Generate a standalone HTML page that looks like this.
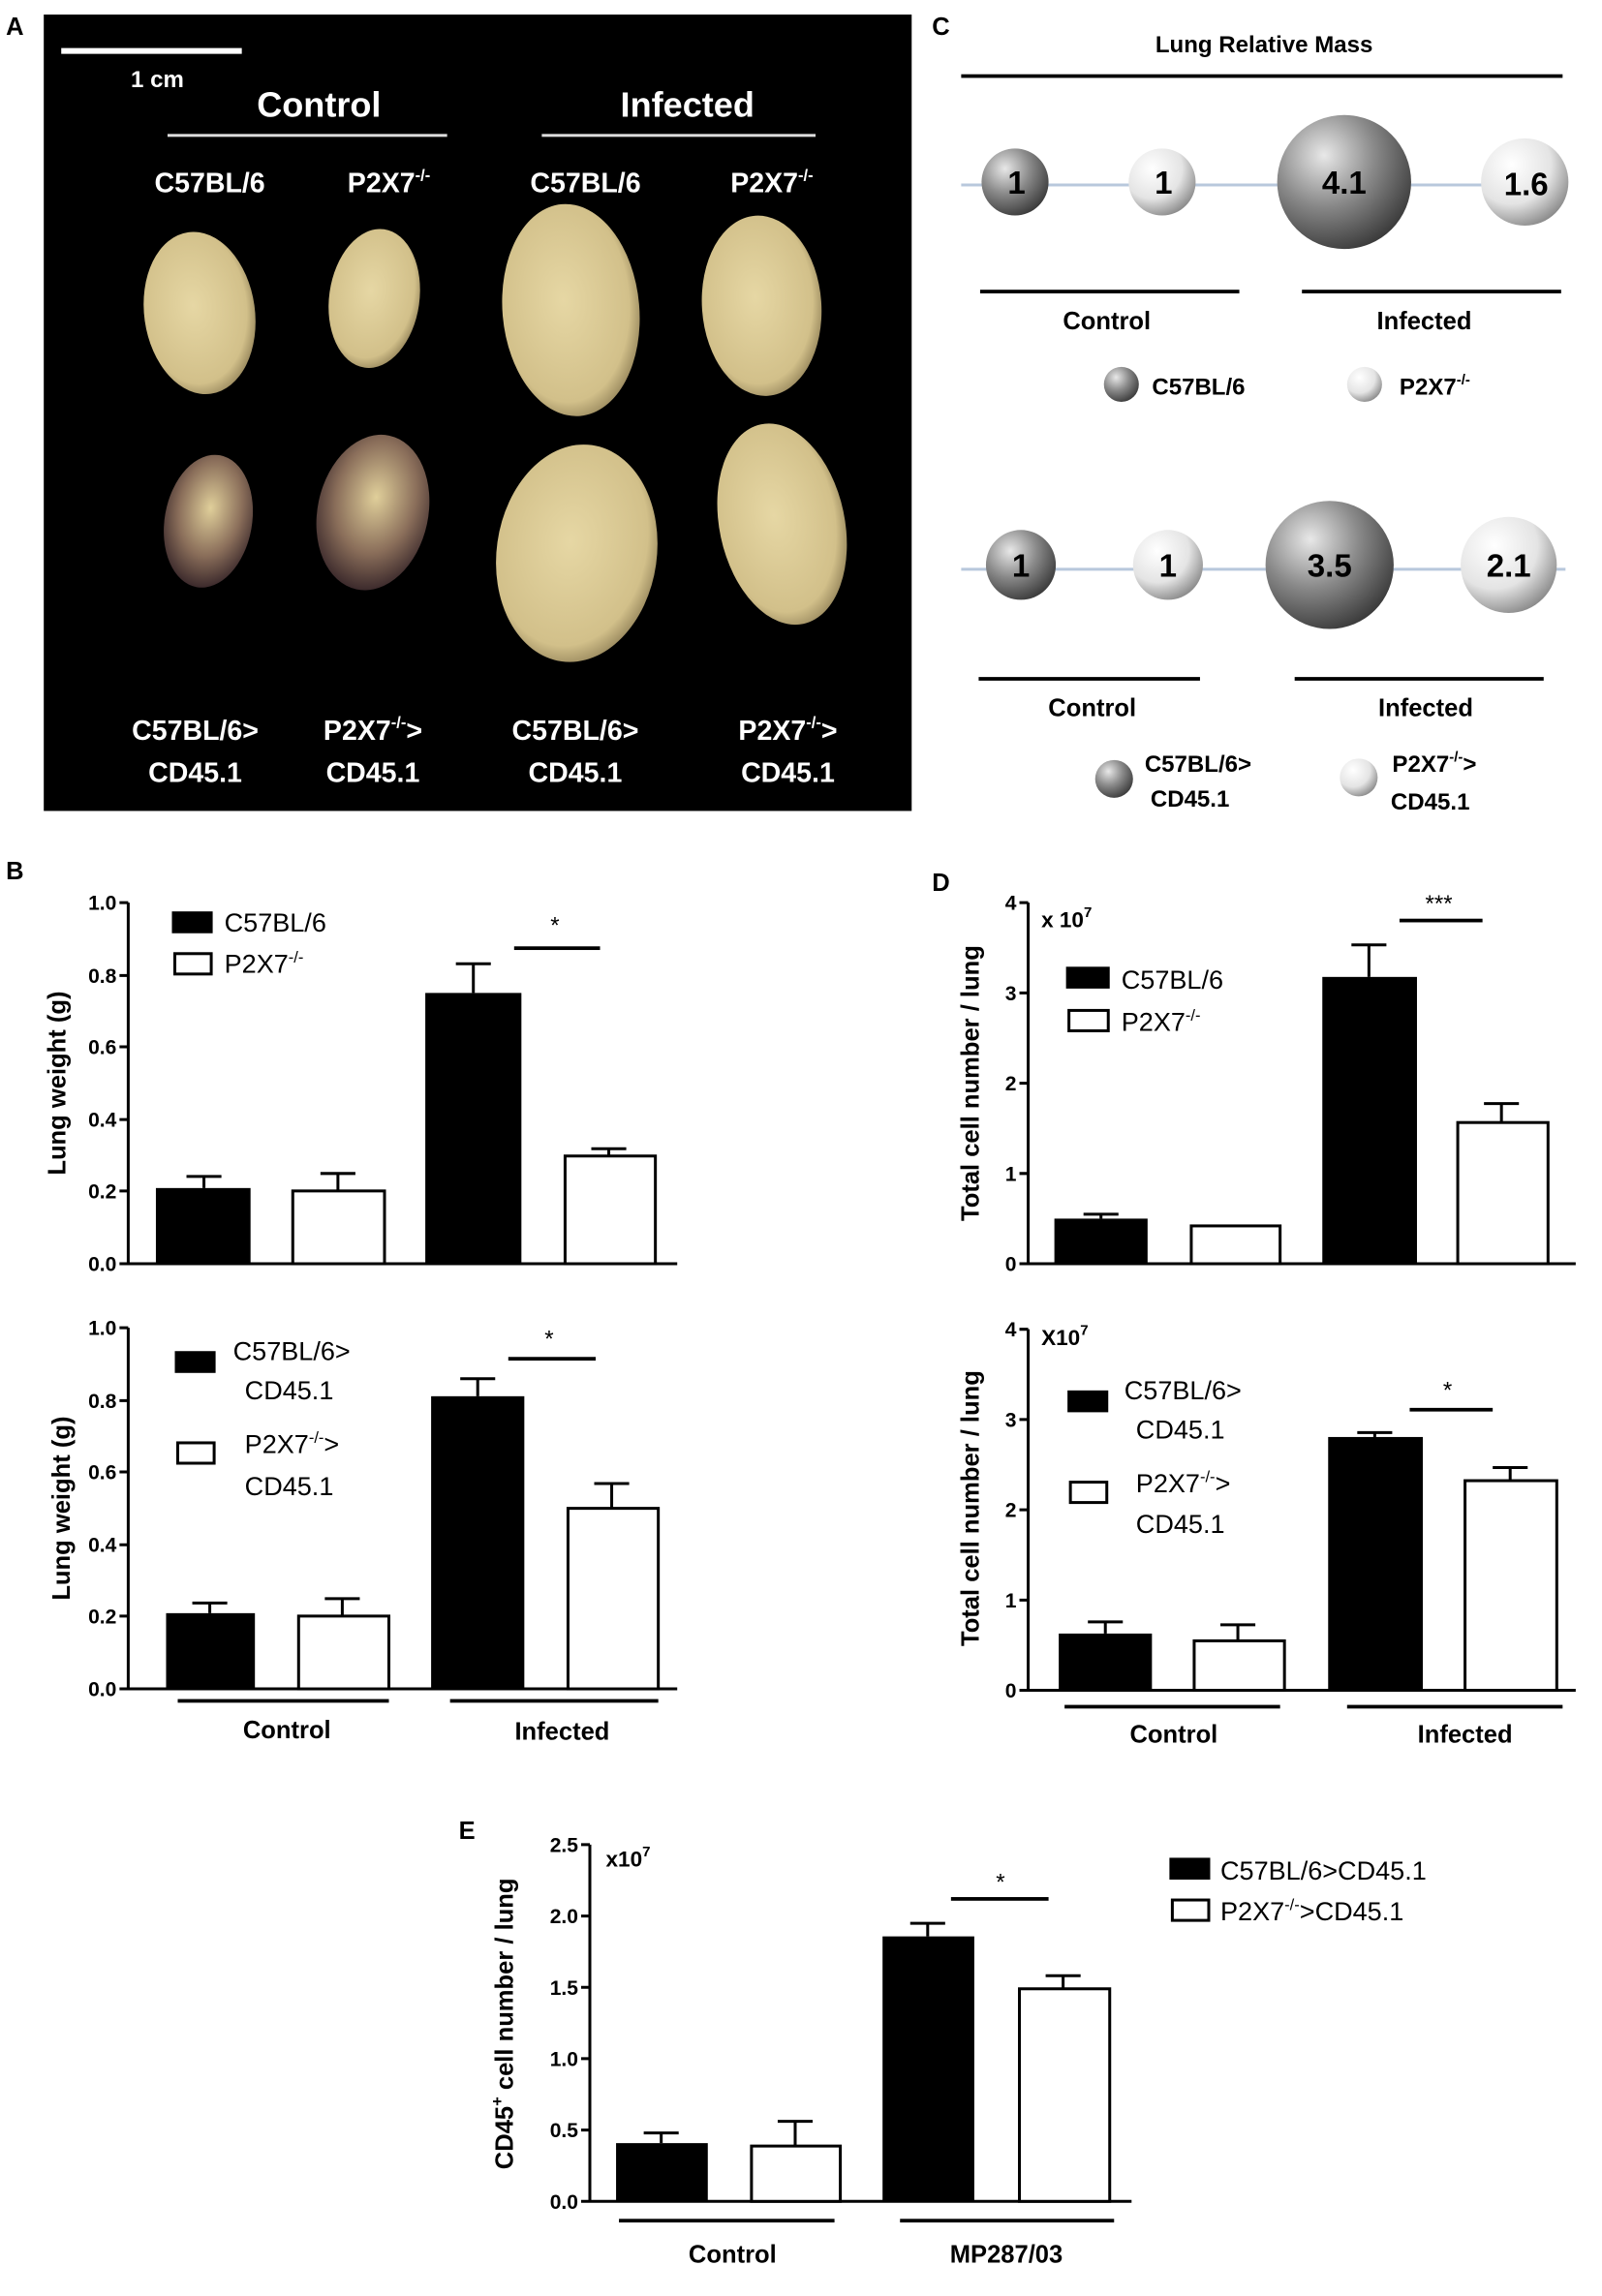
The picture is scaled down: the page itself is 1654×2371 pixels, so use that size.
<!DOCTYPE html>
<html><head><style>body{margin:0;background:#fff}svg{display:block}</style></head><body>
<svg width="1654" height="2371" viewBox="0 0 1100 1577" xmlns="http://www.w3.org/2000/svg" font-family="Liberation Sans, sans-serif">
<defs>
<radialGradient id="gd" cx="0.35" cy="0.3" r="0.75"><stop offset="0" stop-color="#e8e8e8"/><stop offset="0.5" stop-color="#8a8a8a"/><stop offset="1" stop-color="#3a3a3a"/></radialGradient>
<radialGradient id="gl" cx="0.35" cy="0.3" r="0.75"><stop offset="0" stop-color="#ffffff"/><stop offset="0.6" stop-color="#e4e4e4"/><stop offset="1" stop-color="#8a8a8a"/></radialGradient>
<radialGradient id="lg" cx="0.45" cy="0.45" r="0.6"><stop offset="0" stop-color="#e6d7a4"/><stop offset="0.8" stop-color="#d2c08a"/><stop offset="1" stop-color="#8f7f56"/></radialGradient>
<radialGradient id="ld" cx="0.5" cy="0.4" r="0.6"><stop offset="0" stop-color="#e0cf9a"/><stop offset="0.6" stop-color="#8a6e5a"/><stop offset="1" stop-color="#3c2a2c"/></radialGradient>
</defs>
<!-- Panel A -->
<text x="4" y="24" font-size="17" font-weight="bold">A</text>
<rect x="30" y="10" width="596" height="547" fill="#000"/>
<rect x="42" y="33" width="124" height="4" fill="#fff"/>
<g fill="#fff" font-weight="bold" text-anchor="middle">
<text x="108" y="60" font-size="16">1 cm</text>
<text x="219" y="80" font-size="24">Control</text>
<text x="472" y="80" font-size="24">Infected</text>
<text x="144" y="132" font-size="19">C57BL/6</text>
<text x="267" y="132" font-size="19">P2X7<tspan font-size="11" dy="-8">-/-</tspan></text>
<text x="402" y="132" font-size="19">C57BL/6</text>
<text x="530" y="132" font-size="19">P2X7<tspan font-size="11" dy="-8">-/-</tspan></text>
<text x="134" y="508" font-size="19">C57BL/6&gt;</text><text x="134" y="537" font-size="19">CD45.1</text>
<text x="256" y="508" font-size="19">P2X7<tspan font-size="11" dy="-8">-/-</tspan><tspan dy="8">&gt;</tspan></text><text x="256" y="537" font-size="19">CD45.1</text>
<text x="395" y="508" font-size="19">C57BL/6&gt;</text><text x="395" y="537" font-size="19">CD45.1</text>
<text x="541" y="508" font-size="19">P2X7<tspan font-size="11" dy="-8">-/-</tspan><tspan dy="8">&gt;</tspan></text><text x="541" y="537" font-size="19">CD45.1</text>
</g>
<rect x="115" y="92" width="192" height="2" fill="#ddd"/>
<rect x="372" y="92" width="188" height="2" fill="#ddd"/>
<ellipse cx="137" cy="215" rx="38" ry="56" transform="rotate(-8 137 215)" fill="url(#lg)"/>
<ellipse cx="257" cy="205" rx="31" ry="48" transform="rotate(8 257 205)" fill="url(#lg)"/>
<ellipse cx="392" cy="213" rx="47" ry="73" transform="rotate(-5 392 213)" fill="url(#lg)"/>
<ellipse cx="523" cy="210" rx="41" ry="62" transform="rotate(-4 523 210)" fill="url(#lg)"/>
<ellipse cx="143" cy="358" rx="30" ry="46" transform="rotate(10 143 358)" fill="url(#ld)"/>
<ellipse cx="256" cy="352" rx="38" ry="54" transform="rotate(12 256 352)" fill="url(#ld)"/>
<ellipse cx="396" cy="380" rx="55" ry="75" transform="rotate(8 396 380)" fill="url(#lg)"/>
<ellipse cx="537" cy="360" rx="43" ry="70" transform="rotate(-12 537 360)" fill="url(#lg)"/>
<!-- Panel C -->
<text x="640" y="24" font-size="17" font-weight="bold">C</text>
<text x="868" y="36" font-size="16" font-weight="bold" text-anchor="middle">Lung Relative Mass</text>
<rect x="660" y="51" width="413" height="2.5" fill="#000"/>
<line x1="660" y1="127" x2="1075" y2="127" stroke="#b8c8dc" stroke-width="2"/>
<circle cx="697" cy="125" r="23" fill="url(#gd)"/>
<circle cx="798" cy="125" r="23" fill="url(#gl)"/>
<circle cx="923" cy="125" r="46" fill="url(#gd)"/>
<circle cx="1047" cy="125" r="30" fill="url(#gl)"/>
<line x1="660" y1="391" x2="1075" y2="391" stroke="#b8c8dc" stroke-width="2"/>
<circle cx="701" cy="388" r="24" fill="url(#gd)"/>
<circle cx="802" cy="388" r="24" fill="url(#gl)"/>
<circle cx="913" cy="388" r="44" fill="url(#gd)"/>
<circle cx="1036" cy="388" r="33" fill="url(#gl)"/>
<g font-weight="bold" text-anchor="middle" font-size="22">
<text x="698" y="133">1</text><text x="799" y="133">1</text><text x="923" y="133">4.1</text><text x="1048" y="134">1.6</text>
<text x="701" y="396">1</text><text x="802" y="396">1</text><text x="913" y="396">3.5</text><text x="1036" y="396">2.1</text>
</g>
<rect x="673" y="199" width="178" height="2.5" fill="#000"/><rect x="894" y="199" width="178" height="2.5" fill="#000"/>
<g font-size="17" font-weight="bold" text-anchor="middle">
<text x="760" y="226">Control</text><text x="978" y="226">Infected</text>
<text x="750" y="492">Control</text><text x="979" y="492">Infected</text>
</g>
<circle cx="770" cy="264" r="12" fill="url(#gd)"/><circle cx="937" cy="264" r="12" fill="url(#gl)"/>
<g font-size="16" font-weight="bold">
<text x="791" y="271">C57BL/6</text><text x="961" y="271">P2X7<tspan font-size="10" dy="-7">-/-</tspan></text>
<text x="786" y="530">C57BL/6&gt;</text><text x="790" y="554">CD45.1</text>
<text x="956" y="530">P2X7<tspan font-size="10" dy="-7">-/-</tspan><tspan dy="7">&gt;</tspan></text><text x="955" y="556">CD45.1</text>
</g>
<rect x="672" y="465" width="152" height="2.5" fill="#000"/><rect x="889" y="465" width="171" height="2.5" fill="#000"/>
<circle cx="765" cy="535" r="13" fill="url(#gd)"/><circle cx="933" cy="534" r="13" fill="url(#gl)"/>

<g font-size="14" stroke-linecap="butt">
<!-- Panel B -->
<text x="4" y="604" font-size="17" font-weight="bold">B</text>
<g stroke="#000" stroke-width="2" fill="none">
<path d="M88 620V868H465M82 620H88M82 670H88M82 719H88M82 769H88M82 818H88M82 868H88"/>
<path d="M88 912V1160H465M82 912H88M82 962H88M82 1011H88M82 1061H88M82 1110H88M82 1160H88"/>
</g>
<g text-anchor="end" font-size="14" font-weight="bold">
<text x="80" y="625">1.0</text><text x="80" y="675">0.8</text><text x="80" y="724">0.6</text><text x="80" y="774">0.4</text><text x="80" y="823">0.2</text><text x="80" y="873">0.0</text>
<text x="80" y="917">1.0</text><text x="80" y="967">0.8</text><text x="80" y="1016">0.6</text><text x="80" y="1066">0.4</text><text x="80" y="1115">0.2</text><text x="80" y="1165">0.0</text>
</g>
<text transform="translate(45 744) rotate(-90)" text-anchor="middle" font-size="17" font-weight="bold">Lung weight (g)</text>
<text transform="translate(48 1036) rotate(-90)" text-anchor="middle" font-size="17" font-weight="bold">Lung weight (g)</text>
<g stroke="#000" stroke-width="2">
<line x1="140" y1="816" x2="140" y2="808"/><line x1="128" y1="808" x2="152" y2="808"/>
<line x1="232" y1="818" x2="232" y2="806"/><line x1="220" y1="806" x2="244" y2="806"/>
<line x1="325" y1="682" x2="325" y2="662"/><line x1="313" y1="662" x2="337" y2="662"/>
<line x1="418" y1="794" x2="418" y2="789"/><line x1="406" y1="789" x2="430" y2="789"/>
<line x1="144" y1="1108" x2="144" y2="1101"/><line x1="132" y1="1101" x2="156" y2="1101"/>
<line x1="235" y1="1110" x2="235" y2="1098"/><line x1="223" y1="1098" x2="247" y2="1098"/>
<line x1="328" y1="959" x2="328" y2="947"/><line x1="316" y1="947" x2="340" y2="947"/>
<line x1="420" y1="1036" x2="420" y2="1019"/><line x1="408" y1="1019" x2="432" y2="1019"/>
</g>
<rect x="107" y="816" width="65" height="52" fill="#000"/>
<rect x="201" y="818" width="63" height="50" fill="#fff" stroke="#000" stroke-width="2"/>
<rect x="292" y="682" width="66" height="186" fill="#000"/>
<rect x="388" y="794" width="62" height="74" fill="#fff" stroke="#000" stroke-width="2"/>
<rect x="114" y="1108" width="61" height="52" fill="#000"/>
<rect x="205" y="1110" width="62" height="50" fill="#fff" stroke="#000" stroke-width="2"/>
<rect x="296" y="959" width="64" height="201" fill="#000"/>
<rect x="390" y="1036" width="62" height="124" fill="#fff" stroke="#000" stroke-width="2"/>
<rect x="353" y="650" width="59" height="2.5" fill="#000"/><text x="381" y="641" text-anchor="middle" font-size="16">*</text>
<rect x="349" y="932" width="60" height="2.5" fill="#000"/><text x="377" y="925" text-anchor="middle" font-size="16">*</text>
<rect x="118" y="626" width="28" height="15" fill="#000"/><text x="154" y="640" font-size="18">C57BL/6</text>
<rect x="120" y="655" width="25" height="14" fill="#fff" stroke="#000" stroke-width="2"/><text x="154" y="668" font-size="18">P2X7<tspan font-size="11" dy="-7">-/-</tspan></text>
<rect x="120" y="928" width="28" height="15" fill="#000"/><text x="160" y="934" font-size="18">C57BL/6&gt;</text><text x="168" y="961" font-size="18">CD45.1</text>
<rect x="122" y="991" width="25" height="14" fill="#fff" stroke="#000" stroke-width="2"/><text x="168" y="998" font-size="18">P2X7<tspan font-size="11" dy="-7">-/-</tspan><tspan dy="7">&gt;</tspan></text><text x="168" y="1027" font-size="18">CD45.1</text>
<rect x="122" y="1167" width="145" height="2.5" fill="#000"/><rect x="309" y="1167" width="143" height="2.5" fill="#000"/>
<text x="197" y="1194" text-anchor="middle" font-size="17" font-weight="bold">Control</text>
<text x="386" y="1195" text-anchor="middle" font-size="17" font-weight="bold">Infected</text>

<!-- Panel D -->
<text x="640" y="612" font-size="17" font-weight="bold">D</text>
<g stroke="#000" stroke-width="2" fill="none">
<path d="M706 620V868H1082M700 620H706M700 682H706M700 744H706M700 806H706M700 868H706"/>
<path d="M706 913V1161H1082M700 913H706M700 975H706M700 1037H706M700 1099H706M700 1161H706"/>
</g>
<g text-anchor="end" font-size="14" font-weight="bold">
<text x="698" y="625">4</text><text x="698" y="687">3</text><text x="698" y="749">2</text><text x="698" y="811">1</text><text x="698" y="873">0</text>
<text x="698" y="918">4</text><text x="698" y="980">3</text><text x="698" y="1042">2</text><text x="698" y="1104">1</text><text x="698" y="1166">0</text>
</g>
<text x="715" y="637" font-size="15" font-weight="bold">x 10<tspan font-size="10" dy="-7">7</tspan></text>
<text x="715" y="924" font-size="15" font-weight="bold">X10<tspan font-size="10" dy="-7">7</tspan></text>
<text transform="translate(672 744) rotate(-90)" text-anchor="middle" font-size="17" font-weight="bold">Total cell number / lung</text>
<text transform="translate(672 1036) rotate(-90)" text-anchor="middle" font-size="17" font-weight="bold">Total cell number / lung</text>
<g stroke="#000" stroke-width="2">
<line x1="756" y1="837" x2="756" y2="834"/><line x1="744" y1="834" x2="768" y2="834"/>
<line x1="940" y1="671" x2="940" y2="649"/><line x1="928" y1="649" x2="952" y2="649"/>
<line x1="1031" y1="771" x2="1031" y2="758"/><line x1="1019" y1="758" x2="1043" y2="758"/>
<line x1="759" y1="1122" x2="759" y2="1114"/><line x1="747" y1="1114" x2="771" y2="1114"/>
<line x1="850" y1="1127" x2="850" y2="1116"/><line x1="838" y1="1116" x2="862" y2="1116"/>
<line x1="944" y1="987" x2="944" y2="984"/><line x1="932" y1="984" x2="956" y2="984"/>
<line x1="1037" y1="1017" x2="1037" y2="1008"/><line x1="1025" y1="1008" x2="1049" y2="1008"/>
</g>
<rect x="724" y="837" width="64" height="31" fill="#000"/>
<rect x="818" y="842" width="61" height="26" fill="#fff" stroke="#000" stroke-width="2"/>
<rect x="908" y="671" width="65" height="197" fill="#000"/>
<rect x="1001" y="771" width="62" height="97" fill="#fff" stroke="#000" stroke-width="2"/>
<rect x="727" y="1122" width="64" height="39" fill="#000"/>
<rect x="820" y="1127" width="62" height="34" fill="#fff" stroke="#000" stroke-width="2"/>
<rect x="912" y="987" width="65" height="174" fill="#000"/>
<rect x="1006" y="1017" width="63" height="144" fill="#fff" stroke="#000" stroke-width="2"/>
<rect x="961" y="631" width="57" height="2.5" fill="#000"/><text x="988" y="626" text-anchor="middle" font-size="16">***</text>
<rect x="968" y="967" width="57" height="2.5" fill="#000"/><text x="994" y="960" text-anchor="middle" font-size="16">*</text>
<rect x="732" y="664" width="30" height="15" fill="#000"/><text x="770" y="679" font-size="18">C57BL/6</text>
<rect x="734" y="694" width="27" height="14" fill="#fff" stroke="#000" stroke-width="2"/><text x="770" y="708" font-size="18">P2X7<tspan font-size="11" dy="-7">-/-</tspan></text>
<rect x="733" y="955" width="28" height="15" fill="#000"/><text x="772" y="961" font-size="18">C57BL/6&gt;</text><text x="780" y="988" font-size="18">CD45.1</text>
<rect x="735" y="1018" width="25" height="14" fill="#fff" stroke="#000" stroke-width="2"/><text x="780" y="1025" font-size="18">P2X7<tspan font-size="11" dy="-7">-/-</tspan><tspan dy="7">&gt;</tspan></text><text x="780" y="1053" font-size="18">CD45.1</text>
<rect x="731" y="1171" width="148" height="2.5" fill="#000"/><rect x="925" y="1171" width="148" height="2.5" fill="#000"/>
<text x="806" y="1197" text-anchor="middle" font-size="17" font-weight="bold">Control</text>
<text x="1006" y="1197" text-anchor="middle" font-size="17" font-weight="bold">Infected</text>

<!-- Panel E -->
<text x="315" y="1263" font-size="17" font-weight="bold">E</text>
<g stroke="#000" stroke-width="2" fill="none">
<path d="M405 1267V1512H777M399 1267H405M399 1316H405M399 1365H405M399 1414H405M399 1463H405M399 1512H405"/>
</g>
<g text-anchor="end" font-size="14" font-weight="bold">
<text x="397" y="1272">2.5</text><text x="397" y="1321">2.0</text><text x="397" y="1370">1.5</text><text x="397" y="1419">1.0</text><text x="397" y="1468">0.5</text><text x="397" y="1517">0.0</text>
</g>
<text x="416" y="1282" font-size="15" font-weight="bold">x10<tspan font-size="10" dy="-7">7</tspan></text>
<text transform="translate(352 1390) rotate(-90)" text-anchor="middle" font-size="17" font-weight="bold">CD45<tspan font-size="11" dy="-7">+</tspan><tspan dy="7"> cell number / lung</tspan></text>
<g stroke="#000" stroke-width="2">
<line x1="454" y1="1472" x2="454" y2="1465"/><line x1="442" y1="1465" x2="466" y2="1465"/>
<line x1="546" y1="1474" x2="546" y2="1457"/><line x1="534" y1="1457" x2="558" y2="1457"/>
<line x1="637" y1="1330" x2="637" y2="1321"/><line x1="625" y1="1321" x2="649" y2="1321"/>
<line x1="730" y1="1366" x2="730" y2="1357"/><line x1="718" y1="1357" x2="742" y2="1357"/>
</g>
<rect x="423" y="1472" width="63" height="40" fill="#000"/>
<rect x="516" y="1474" width="61" height="38" fill="#fff" stroke="#000" stroke-width="2"/>
<rect x="606" y="1330" width="63" height="182" fill="#000"/>
<rect x="700" y="1366" width="62" height="146" fill="#fff" stroke="#000" stroke-width="2"/>
<rect x="653" y="1303" width="67" height="2.5" fill="#000"/><text x="687" y="1298" text-anchor="middle" font-size="16">*</text>
<rect x="803" y="1276" width="28" height="15" fill="#000"/><text x="838" y="1291" font-size="18">C57BL/6&gt;CD45.1</text>
<rect x="805" y="1305" width="25" height="14" fill="#fff" stroke="#000" stroke-width="2"/><text x="838" y="1319" font-size="18">P2X7<tspan font-size="11" dy="-7">-/-</tspan><tspan dy="7">&gt;CD45.1</tspan></text>
<rect x="425" y="1524" width="148" height="2.5" fill="#000"/><rect x="618" y="1524" width="147" height="2.5" fill="#000"/>
<text x="503" y="1554" text-anchor="middle" font-size="17" font-weight="bold">Control</text>
<text x="691" y="1554" text-anchor="middle" font-size="17" font-weight="bold">MP287/03</text>
</g>
</svg>
</body></html>
